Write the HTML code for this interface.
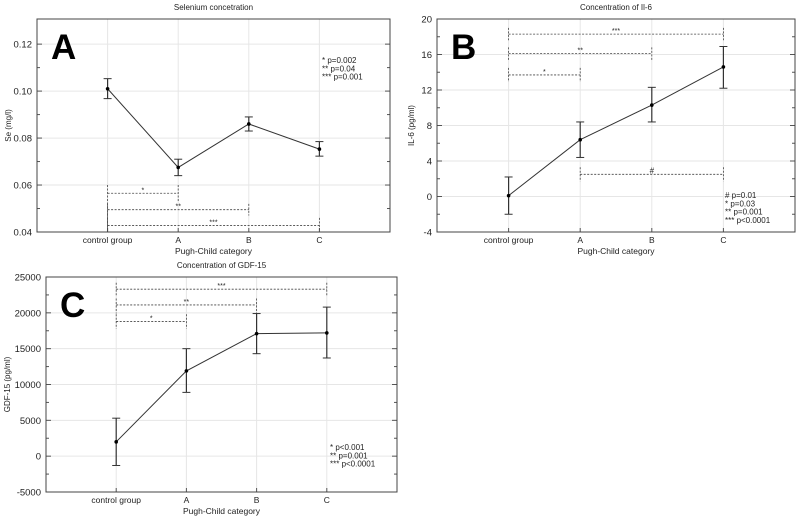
<!DOCTYPE html>
<html><head><meta charset="utf-8"><style>
body{margin:0;background:#fff;}
svg{font-family:"Liberation Sans",sans-serif;}
</style></head><body>
<svg id="svg" width="798" height="520" xmlns="http://www.w3.org/2000/svg"></svg>
<script>
const categories=["control group","A","B","C"];
const seMean=[0.101,0.0675,0.086,0.0753];
const seLow=[0.0968,0.064,0.083,0.0723];
const seHigh=[0.1053,0.071,0.089,0.0785];
const seTicks=[0.04,0.06,0.08,0.10,0.12];
const seTickLabels=["0.04","0.06","0.08","0.10","0.12"];
const il6Mean=[0.1,6.4,10.3,14.6];
const il6Low=[-2.0,4.4,8.4,12.2];
const il6High=[2.2,8.4,12.3,16.9];
const il6Ticks=[-4,0,4,8,12,16,20];
const gdfMean=[2000,11900,17100,17200];
const gdfLow=[-1300,8900,14300,13700];
const gdfHigh=[5300,15000,19900,20800];
const gdfTicks=[-5000,0,5000,10000,15000,20000,25000];
const seBrackets=[[0,1,0.0565,0.060,0.04,0.053,"*"],[0,2,0.0495,0.052,0.04,0.047,"**"],[0,3,0.0428,0.046,0.04,0.04,"***"]];
const il6Brackets=[[0,3,18.3,19,17.6,17.6,"***"],[0,2,16.1,16.8,15.3,15.3,"**"],[0,1,13.7,14.5,12.9,12.9,"*"],[1,3,2.5,3.3,1.7,1.7,"#"]];
const gdfBrackets=[[0,3,23300,24200,22400,22400,"***"],[0,2,21100,22000,19900,19900,"**"],[0,1,18800,19800,17800,17800,"*"]];

const svg=document.getElementById('svg');
const NS="http://www.w3.org/2000/svg";
function mk(tag,attrs,parent,text){const e=document.createElementNS(NS,tag);for(const k in attrs)e.setAttribute(k,attrs[k]);if(text!==undefined)e.textContent=text;(parent||svg).appendChild(e);return e;}

function panel(cfg){
  const g=mk('g',{});
  
  
  const {x0,x1,y0,y1,ymin,ymax}=cfg;
  const X=i=>x0+(i+1)*(x1-x0)/5;
  const Y=v=>y1-(v-ymin)/(ymax-ymin)*(y1-y0);
  cfg.ticks.forEach((t,i)=>{
    const gl=mk('line',{x1:x0,x2:x1,y1:Y(t),y2:Y(t),stroke:'#e6e6e6','stroke-width':1},g);
    
    if(i<cfg.ticks.length-1){const m=(t+cfg.ticks[i+1])/2;
      mk('line',{x1:x0,x2:x0+3,y1:Y(m),y2:Y(m),stroke:'#555'},g);
      mk('line',{x1:x1,x2:x1-3,y1:Y(m),y2:Y(m),stroke:'#555'},g);}
    mk('line',{x1:x0,x2:x0+5,y1:Y(t),y2:Y(t),stroke:'#555'},g);
    mk('line',{x1:x1,x2:x1-5,y1:Y(t),y2:Y(t),stroke:'#555'},g);
    const tl=mk('text',{x:x0-5,y:Y(t)+3.5,'font-size':9.5,'text-anchor':'end',fill:'#222'},g,cfg.labels?cfg.labels[i]:String(t));
    
  });
  categories.forEach((c,i)=>{
    mk('line',{x1:X(i),x2:X(i),y1:y0,y2:y1,stroke:'#e6e6e6'},g);
    mk('line',{x1:X(i),x2:X(i),y1:y1,y2:y1-4,stroke:'#555'},g);
    const t=mk('text',{x:X(i),y:y1+11,'font-size':8.5,'text-anchor':'middle',fill:'#222'},g,c);
    
  });
  const box=mk('rect',{x:x0,y:y0,width:x1-x0,height:y1-y0,fill:'none',stroke:'#444','stroke-width':1},g);
  
  const ti=mk('text',{x:(x0+x1)/2,y:y0-9,'font-size':8,'text-anchor':'middle',fill:'#222'},g,cfg.title);
  
  const xt=mk('text',{x:(x0+x1)/2,y:y1+22,'font-size':8.5,'text-anchor':'middle',fill:'#222'},g,'Pugh-Child category');
  
  const yt=mk('text',{x:0,y:0,'font-size':8,'text-anchor':'middle',fill:'#222',transform:`translate(${cfg.ytx},${(y0+y1)/2}) rotate(-90)`},g,cfg.ytitle);
  
  const big=mk('text',{x:x0+14,y:y0+40,'font-size':35,'font-weight':'bold',fill:'#000'},g,cfg.letter);
  
  cfg.brackets.forEach(b=>{
    const [a,c,lv,vt,vba,vbc,lab]=b;
    const d={stroke:'#444','stroke-dasharray':'2,1.5','stroke-width':0.8};
    const h=mk('line',Object.assign({x1:X(a),x2:X(c),y1:Y(lv),y2:Y(lv)},d),g);
    
    mk('line',Object.assign({x1:X(a),x2:X(a),y1:Y(vt),y2:Y(vba)},d),g);
    mk('line',Object.assign({x1:X(c),x2:X(c),y1:Y(vt),y2:Y(vbc)},d),g);
    const st=mk('text',{x:(X(a)+X(c))/2,y:Y(lv)-1,'font-size':lab==='#'?8:7,'text-anchor':'middle',fill:'#222'},g,lab);
    
  });
  const pts=cfg.mean.map((v,i)=>X(i)+','+Y(v)).join(' ');
  const pl=mk('polyline',{points:pts,fill:'none',stroke:'#333','stroke-width':1},g);
  
  cfg.mean.forEach((v,i)=>{
    const eb=mk('line',{x1:X(i),x2:X(i),y1:Y(cfg.low[i]),y2:Y(cfg.high[i]),stroke:'#333','stroke-width':1.2},g);
    
    mk('line',{x1:X(i)-4,x2:X(i)+4,y1:Y(cfg.low[i]),y2:Y(cfg.low[i]),stroke:'#333'},g);
    mk('line',{x1:X(i)-4,x2:X(i)+4,y1:Y(cfg.high[i]),y2:Y(cfg.high[i]),stroke:'#333'},g);
    const p=mk('circle',{cx:X(i),cy:Y(v),r:1.8,fill:'#000'},g);
    
  });
  cfg.legend.forEach((l,i)=>{
    const t=mk('text',{x:cfg.lx,y:cfg.ly+i*8.3,'font-size':8,fill:'#222'},g,l);
    
  });
}
panel({name:'selenium-chart',x0:37,x1:390,y0:19,y1:232,ymin:0.04,ymax:0.1307,ticks:seTicks,labels:seTickLabels,
  mean:seMean,low:seLow,high:seHigh,brackets:seBrackets,title:'Selenium concetration',ytitle:'Se (mg/l)',ytx:11,letter:'A',
  legend:['* p=0.002','** p=0.04','*** p=0.001'],lx:322,ly:63});
panel({name:'il6-chart',x0:437,x1:795,y0:19,y1:232,ymin:-4,ymax:20,ticks:il6Ticks,
  mean:il6Mean,low:il6Low,high:il6High,brackets:il6Brackets,title:'Concentration of Il-6',ytitle:'IL-6 (pg/ml)',ytx:414,letter:'B',
  legend:['# p=0.01','* p=0.03','** p=0.001','*** p<0.0001'],lx:725,ly:198});
panel({name:'gdf15-chart',x0:46,x1:397,y0:277,y1:492,ymin:-5000,ymax:25000,ticks:gdfTicks,
  mean:gdfMean,low:gdfLow,high:gdfHigh,brackets:gdfBrackets,title:'Concentration of GDF-15',ytitle:'GDF-15 (pg/ml)',ytx:10,letter:'C',
  legend:['* p<0.001','** p=0.001','*** p<0.0001'],lx:330,ly:450});
</script>
</body></html>
